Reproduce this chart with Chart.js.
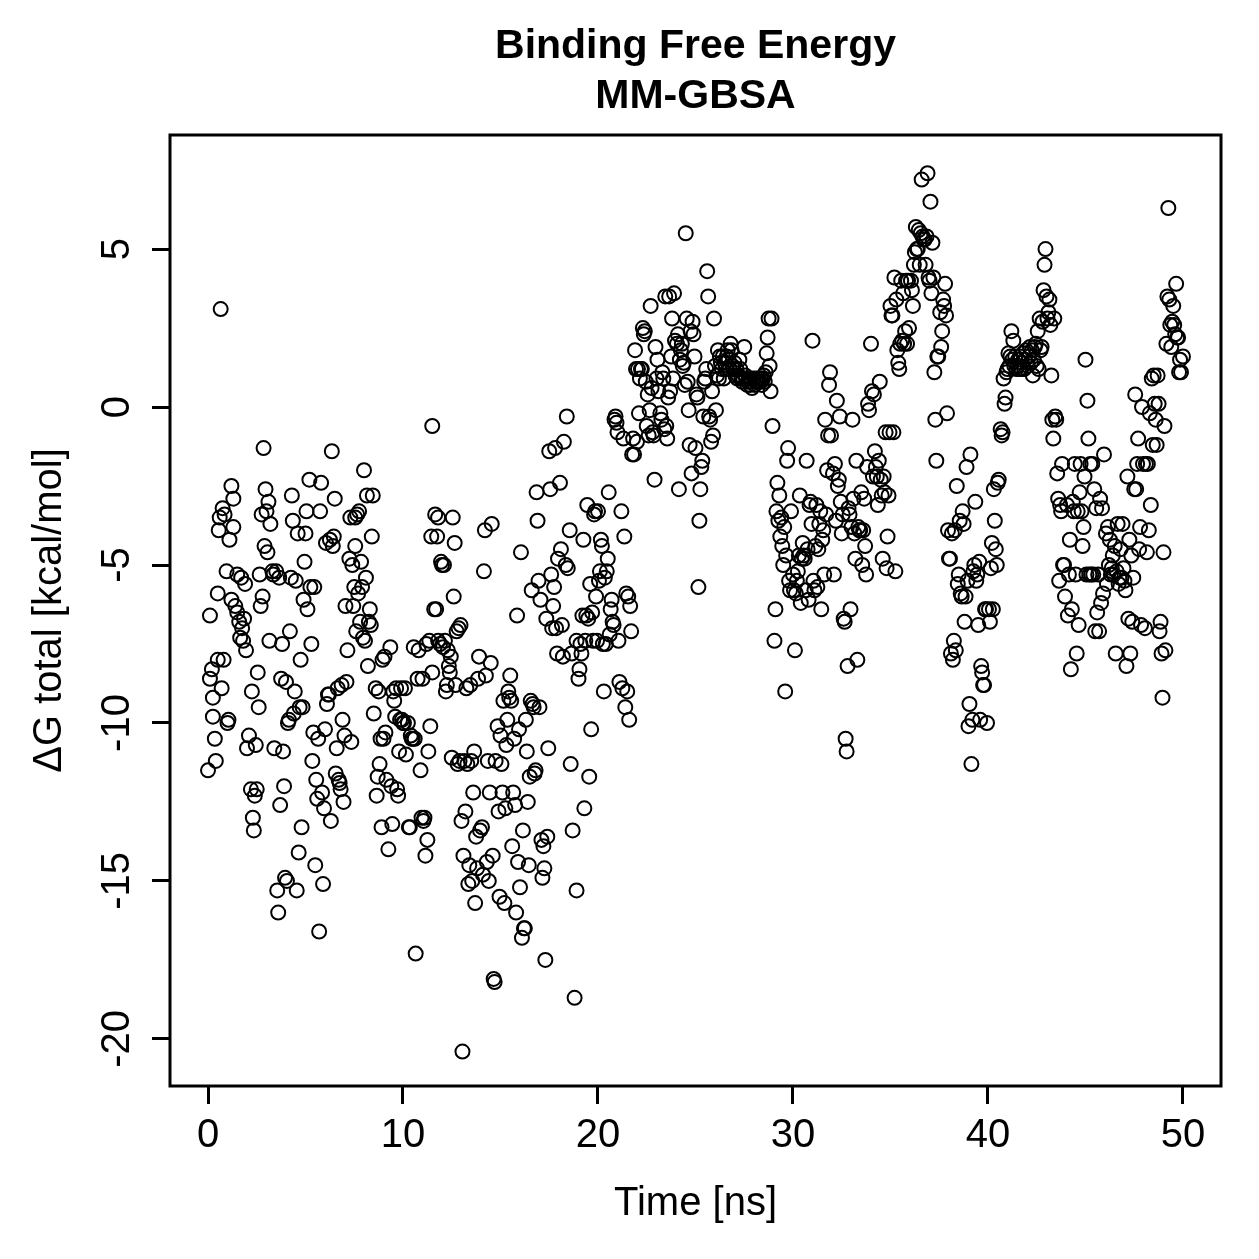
<!DOCTYPE html>
<html>
<head>
<meta charset="utf-8">
<script src="https://cdn.jsdelivr.net/npm/chart.js@4"></script>
<style>
  html, body { margin: 0; padding: 0; background: #fff; }
  canvas { display: block; }
</style>
</head>
<body>
<canvas id="chart" width="1259" height="1259"></canvas>
<script>
// title, axis labels, ticks
const titleLines = ['Binding Free Energy', 'MM-GBSA'];
const xLabel = 'Time [ns]';
const yLabel = 'ΔG total [kcal/mol]';
const xTicks = [0, 10, 20, 30, 40, 50];
const yTicks = [-20, -15, -10, -5, 0, 5];

// [time (ns), dG total (kcal/mol)], in 10 ns blocks
const dg0to10 = [
  [0,-11.5],[0.1,-8.6],[0.1,-6.6],[0.2,-8.3],[0.25,-9.2],[0.25,-9.8],[0.35,-10.5],[0.4,-11.2],[0.5,-8.0],[0.5,-5.9],
  [0.55,-3.9],[0.6,-3.5],[0.65,3.1],[0.7,-8.9],[0.75,-3.2],[0.8,-8.0],[0.85,-3.4],[0.95,-5.2],[1.0,-10.0],[1.05,-9.9],
  [1.1,-4.2],[1.2,-2.5],[1.2,-6.1],[1.3,-3.8],[1.3,-2.9],[1.4,-6.3],[1.5,-5.3],[1.5,-6.5],[1.6,-6.8],[1.65,-7.3],
  [1.7,-5.4],[1.75,-7.0],[1.8,-7.4],[1.85,-6.7],[1.9,-5.6],[1.95,-7.7],[2.0,-10.8],
  [2.1,-10.4],[2.2,-12.1],[2.25,-9.0],[2.3,-13.0],[2.35,-13.4],[2.4,-12.3],[2.45,-10.7],[2.5,-12.1],[2.55,-8.4],[2.6,-9.5],
  [2.65,-5.3],[2.7,-6.3],[2.75,-3.4],[2.8,-6.0],[2.85,-1.3],[2.9,-4.4],[2.95,-2.6],[3.0,-3.3],[3.05,-4.6],[3.1,-3.0],
  [3.15,-7.4],[3.2,-3.7],[3.3,-5.2],[3.35,-5.3],[3.4,-10.8],[3.5,-5.2],[3.55,-15.3],[3.6,-16.0],[3.65,-5.4],[3.7,-12.6],
  [3.75,-8.6],[3.8,-7.5],[3.85,-10.9],[3.9,-12.0],[3.95,-14.9],[4.0,-8.7],
  [4.05,-15.0],[4.1,-10.0],[4.15,-9.9],[4.2,-7.1],[4.25,-5.4],[4.3,-2.8],[4.35,-3.6],[4.4,-9.7],[4.45,-9.0],[4.5,-5.5],
  [4.55,-15.3],[4.6,-4.0],[4.65,-14.1],[4.7,-9.5],[4.75,-8.0],[4.8,-13.3],[4.85,-9.5],[4.9,-6.1],[4.95,-4.9],[5.0,-4.0],
  [5.05,-3.3],[5.1,-6.4],[5.2,-2.3],[5.25,-5.7],[5.3,-7.5],[5.35,-11.2],[5.4,-10.3],[5.45,-5.7],[5.5,-14.5],[5.55,-11.8],
  [5.6,-12.4],[5.65,-10.5],[5.7,-16.6],[5.75,-3.3],[5.8,-2.4],[5.85,-12.2],[5.9,-15.1],[5.95,-12.7],[6.0,-10.2],
  [6.05,-4.3],[6.1,-9.4],[6.15,-9.1],[6.2,-9.1],[6.25,-4.2],[6.3,-13.1],[6.35,-1.4],[6.4,-4.4],[6.45,-4.1],[6.5,-2.9],
  [6.55,-11.6],[6.6,-10.8],[6.65,-8.9],[6.7,-11.8],[6.75,-11.9],[6.8,-12.1],[6.85,-8.8],[6.9,-9.9],[6.95,-12.5],[7.0,-10.4],
  [7.05,-6.3],[7.1,-8.7],[7.15,-7.7],[7.25,-4.8],[7.3,-3.5],[7.35,-10.6],[7.4,-5.0],[7.45,-6.3],[7.5,-5.7],[7.55,-3.5],
  [7.55,-4.4],[7.6,-7.1],[7.65,-3.4],[7.7,-5.9],[7.75,-3.3],[7.8,-6.8],[7.85,-4.9],[7.9,-5.7],[7.95,-7.3],[8.0,-2.0],
  [8.05,-7.4],[8.1,-5.4],[8.15,-2.8],[8.2,-8.2],[8.25,-6.8],[8.3,-6.4],[8.35,-6.9],[8.4,-4.1],[8.45,-2.8],[8.5,-9.7],
  [8.6,-8.9],[8.65,-12.3],[8.7,-11.7],[8.75,-9.0],[8.8,-11.3],[8.85,-10.5],[8.9,-13.3],[8.95,-8.0],[9.0,-10.5],[9.05,-7.9],
  [9.1,-10.3],[9.15,-11.8],[9.25,-14.0],[9.35,-7.6],[9.4,-12.0],[9.45,-13.2],[9.5,-9.0],[9.55,-9.3],[9.6,-9.8],[9.65,-8.9],
  [9.7,-12.1],[9.75,-12.3],[9.8,-10.9],[9.85,-9.9],[9.9,-8.9],[9.95,-9.9],[10.0,-10.0]
];

const dg10to20 = [
  [10.05,-10.0],[10.1,-8.9],[10.15,-11.0],[10.25,-10.0],[10.3,-13.3],[10.35,-13.3],[10.4,-10.4],[10.45,-10.5],[10.5,-10.5],[10.55,-7.6],
  [10.6,-10.5],[10.65,-17.3],[10.75,-8.6],[10.8,-7.7],[10.9,-11.5],[10.95,-13.0],[11.0,-8.6],[11.05,-13.1],[11.1,-13.0],[11.15,-14.2],
  [11.2,-7.5],[11.25,-13.7],[11.3,-10.9],[11.35,-7.4],[11.4,-10.1],[11.45,-4.1],[11.5,-8.4],[11.5,-0.6],[11.6,-6.4],[11.65,-3.4],
  [11.7,-6.4],[11.75,-4.1],[11.8,-7.4],[11.8,-3.5],[11.9,-7.5],[11.95,-4.9],[12.0,-5.0],
  [12.05,-7.6],[12.1,-5.0],[12.15,-7.4],[12.2,-9.0],[12.25,-8.8],[12.3,-7.7],[12.35,-8.2],[12.4,-8.4],[12.45,-7.9],[12.5,-11.1],
  [12.55,-3.5],[12.6,-6.0],[12.65,-4.3],[12.7,-8.8],[12.75,-7.1],[12.8,-11.3],[12.85,-7.0],[12.9,-11.2],[12.95,-6.9],[13.0,-13.1],
  [13.05,-20.4],[13.1,-14.2],[13.15,-11.2],[13.2,-12.8],[13.25,-8.9],[13.3,-11.3],[13.35,-15.1],[13.4,-14.5],[13.45,-8.8],[13.5,-11.2],
  [13.55,-15.0],[13.6,-12.2],[13.65,-10.9],[13.7,-15.7],[13.75,-13.6],[13.8,-14.6],[13.85,-8.6],[13.9,-7.9],[13.95,-13.4],
  [14.05,-13.3],[14.1,-14.8],[14.15,-5.2],[14.2,-3.9],[14.25,-8.5],[14.3,-14.4],[14.35,-11.2],[14.4,-15.0],[14.45,-12.2],[14.5,-8.1],
  [14.55,-3.7],[14.6,-14.2],[14.65,-18.1],[14.7,-18.2],[14.75,-11.2],[14.85,-10.1],[14.9,-12.8],[14.95,-15.5],[15.0,-10.4],[15.05,-11.3],
  [15.1,-12.2],[15.15,-9.3],[15.2,-15.7],[15.25,-12.7],[15.3,-10.7],[15.35,-9.9],[15.4,-9.0],[15.45,-9.2],[15.5,-8.5],[15.55,-9.3],
  [15.6,-13.9],[15.65,-12.2],[15.7,-10.5],[15.75,-12.6],[15.8,-16.0],[15.85,-6.6],[15.9,-14.4],[15.95,-10.2],[16.0,-15.2],
  [16.05,-4.6],[16.1,-16.8],[16.15,-13.4],[16.2,-16.5],[16.25,-16.5],[16.3,-9.9],[16.35,-10.9],[16.4,-12.5],[16.45,-14.5],[16.5,-11.7],
  [16.55,-9.3],[16.6,-5.8],[16.65,-9.4],[16.7,-9.5],[16.75,-11.6],[16.8,-11.5],[16.85,-2.7],[16.9,-3.6],[16.95,-5.5],[17.0,-9.5],
  [17.05,-6.1],[17.1,-13.7],[17.15,-14.9],[17.2,-13.9],[17.25,-14.6],[17.3,-17.5],[17.35,-6.7],[17.4,-13.6],[17.45,-10.8],[17.5,-1.4],
  [17.55,-2.6],[17.6,-5.3],[17.65,-7.0],[17.7,-6.3],[17.75,-5.7],[17.8,-1.3],[17.85,-7.0],[17.9,-7.8],[17.95,-4.8],
  [18.05,-2.4],[18.1,-4.5],[18.15,-6.9],[18.2,-7.9],[18.25,-1.1],[18.35,-5.0],[18.4,-0.3],[18.45,-5.1],[18.55,-3.9],[18.6,-11.3],
  [18.65,-7.8],[18.7,-13.4],[18.8,-18.7],[18.9,-15.3],[18.9,-7.4],[19.0,-8.6],[19.05,-8.3],[19.1,-7.5],[19.15,-7.8],[19.2,-6.6],
  [19.25,-4.2],[19.3,-12.7],[19.35,-7.4],[19.4,-6.6],[19.45,-3.1],[19.5,-6.7],[19.55,-11.7],[19.6,-5.6],[19.65,-10.2],[19.7,-6.5],
  [19.75,-7.4],[19.8,-3.4],[19.85,-3.3],[19.9,-6.0],[19.95,-7.4],[20.0,-3.3]
];

const dg20to30 = [
  [20.05,-5.5],[20.1,-5.2],[20.15,-4.2],[20.2,-4.4],[20.25,-7.5],[20.3,-9.0],[20.35,-5.4],[20.4,-7.5],[20.45,-5.2],[20.5,-4.8],
  [20.55,-2.7],[20.6,-7.2],[20.65,-6.4],[20.7,-6.1],[20.75,-6.8],[20.8,-6.9],[20.85,-0.4],[20.9,-0.3],[20.95,-0.5],[21.0,-0.8],
  [21.05,-7.4],[21.1,-8.7],[21.2,-3.3],[21.25,-8.9],[21.3,-1.0],[21.35,-4.1],[21.4,-9.5],[21.45,-5.9],[21.5,-9.0],[21.55,-6.0],
  [21.6,-9.9],[21.65,-6.3],[21.7,-7.1],[21.75,-1.5],[21.8,-1.0],[21.85,-1.5],[21.9,1.8],[21.95,1.2],[22.0,-1.1],
  [22.05,1.2],[22.1,-0.2],[22.15,0.9],[22.2,1.2],[22.25,1.2],[22.3,2.5],[22.35,2.3],[22.4,2.4],[22.45,0.8],[22.5,-0.6],
  [22.55,0.4],[22.6,-0.9],[22.65,-0.1],[22.7,3.2],[22.75,0.6],[22.8,-0.8],[22.85,-0.9],[22.9,-2.3],[22.95,1.9],[23.0,0.9],
  [23.05,1.5],[23.1,0.5],[23.2,-0.2],[23.25,-0.4],[23.3,1.1],[23.35,0.9],[23.4,-0.7],[23.45,3.5],[23.5,-0.6],[23.55,-1.0],
  [23.6,0.3],[23.65,3.5],[23.7,0.5],[23.75,1.6],[23.8,2.8],[23.85,0.9],[23.9,3.6],[23.95,2.1],
  [24.05,2.0],[24.1,2.3],[24.15,-2.6],[24.2,1.5],[24.25,1.8],[24.3,2.0],[24.35,1.3],[24.4,1.4],[24.45,0.7],[24.5,5.5],
  [24.55,2.8],[24.6,0.8],[24.65,-0.1],[24.7,-1.2],[24.75,2.4],[24.8,-2.1],[24.85,2.7],[24.9,2.3],[24.95,1.6],[25.0,-1.3],
  [25.05,0.4],[25.1,0.3],[25.15,-5.7],[25.2,-3.6],[25.25,-2.6],[25.3,-1.9],[25.35,-1.7],[25.4,-0.3],[25.45,0.8],[25.5,0.9],
  [25.55,1.2],[25.6,4.3],[25.65,3.5],[25.7,-0.3],[25.75,-0.4],[25.8,-1.1],[25.85,0.5],[25.9,-0.9],[25.95,2.8],
  [26.0,1.3],[26.05,-0.1],[26.1,1.0],[26.15,1.8],[26.2,0.9],[26.25,1.6],[26.3,1.4],[26.35,1.2],[26.4,1.6],[26.45,0.9],
  [26.5,1.4],[26.55,1.2],[26.6,1.6],[26.65,1.8],[26.7,1.5],[26.75,1.2],[26.8,2.0],[26.85,1.8],[26.9,1.3],[26.95,1.2],
  [27.0,1.4],[27.05,1.0],[27.1,1.2],[27.15,0.9],[27.2,1.0],[27.25,1.5],[27.3,1.2],[27.35,0.9],[27.4,0.8],[27.45,0.9],
  [27.5,1.9],[27.55,1.0],[27.6,0.9],[27.65,0.7],[27.7,0.8],[27.75,0.9],[27.8,0.7],[27.85,0.9],[27.9,0.6],
  [28.0,0.9],[28.05,0.7],[28.1,0.8],[28.15,0.9],[28.2,0.8],[28.25,0.9],[28.3,0.8],[28.35,0.9],[28.4,0.7],[28.45,0.9],
  [28.5,1.0],[28.55,0.8],[28.6,1.1],[28.65,1.7],[28.7,2.2],[28.75,2.8],[28.8,1.3],[28.85,0.5],[28.9,2.8],[28.95,-0.6],
  [29.05,-7.4],[29.1,-6.4],[29.15,-3.3],[29.2,-2.4],[29.25,-3.6],[29.3,-2.8],[29.35,-4.1],[29.4,-3.5],[29.45,-4.4],[29.5,-5.0],
  [29.55,-3.8],[29.6,-9.0],[29.65,-4.7],[29.7,-1.7],[29.75,-1.3],[29.8,-5.5],[29.85,-5.8],[29.9,-3.3],[30.0,-5.3]
];

const dg30to40 = [
  [30.05,-5.8],[30.1,-7.7],[30.15,-5.9],[30.2,-5.5],[30.25,-5.2],[30.3,-4.7],[30.35,-2.8],[30.4,-6.2],[30.45,-4.8],[30.5,-4.3],
  [30.55,-4.7],[30.6,-4.8],[30.65,-5.8],[30.7,-1.7],[30.75,-4.5],[30.8,-6.1],[30.85,-3.1],[30.9,-3.0],[30.95,-3.7],[31.0,2.1],
  [31.05,-5.5],[31.1,-5.8],[31.15,-4.4],[31.2,-3.1],[31.25,-5.7],[31.3,-4.5],[31.35,-3.7],[31.4,-3.3],[31.45,-6.4],[31.5,-4.2],
  [31.55,-3.9],[31.6,-5.3],[31.65,-0.4],[31.7,-3.4],[31.75,-2.0],[31.8,-0.9],[31.85,0.7],[31.9,1.1],[31.95,-0.9],
  [32.05,-2.1],[32.1,-5.3],[32.15,-1.8],[32.2,-3.6],[32.25,0.2],[32.3,-2.5],[32.35,-2.3],[32.4,-0.3],[32.45,-3.0],[32.5,-4.0],
  [32.55,-3.4],[32.6,-6.7],[32.65,-6.8],[32.7,-10.5],[32.75,-10.9],[32.8,-8.2],[32.85,-3.2],[32.9,-3.4],[32.95,-6.4],[33.0,-3.8],
  [33.05,-0.4],[33.1,-2.9],[33.15,-4.0],[33.2,-4.8],[33.25,-1.7],[33.3,-8.0],[33.35,-3.8],[33.4,-3.9],[33.45,-3.9],[33.5,-2.7],
  [33.55,-5.0],[33.6,-3.9],[33.65,-2.9],[33.7,-4.4],[33.75,-5.3],[33.8,-1.9],[33.85,0.1],[33.9,-0.1],[34.0,2.0],
  [34.05,0.5],[34.1,-2.2],[34.15,0.4],[34.2,-1.4],[34.25,-1.9],[34.3,-2.2],[34.35,-3.1],[34.4,-1.7],[34.45,0.8],[34.5,-2.3],
  [34.55,-2.8],[34.6,-4.8],[34.65,-2.2],[34.7,-2.7],[34.75,-0.8],[34.8,-5.1],[34.85,-4.1],[34.9,-2.8],[34.95,-0.8],[35.0,3.2],
  [35.05,2.9],[35.1,2.9],[35.15,-0.8],[35.2,4.1],[35.25,-5.2],[35.3,3.4],[35.35,1.8],[35.4,1.4],[35.45,1.2],[35.5,2.0],
  [35.55,4.0],[35.6,2.1],[35.65,3.6],[35.7,2.0],[35.75,2.4],[35.8,4.0],[35.85,2.0],[35.9,4.0],[35.95,2.5],
  [36.05,4.0],[36.1,3.7],[36.15,3.2],[36.2,4.5],[36.25,4.9],[36.3,5.7],[36.35,5.0],[36.4,5.0],[36.45,5.6],[36.5,4.5],
  [36.55,5.5],[36.6,7.2],[36.65,5.4],[36.7,5.3],[36.75,5.3],[36.8,4.5],[36.85,5.4],[36.9,7.4],[36.95,4.1],[37.0,4.0],
  [37.05,6.5],[37.1,3.6],[37.15,5.2],[37.2,4.1],[37.25,1.1],[37.3,-0.4],[37.35,-1.7],[37.4,1.6],[37.45,1.6],[37.55,3.0],
  [37.6,1.9],[37.65,2.4],[37.7,3.4],[37.75,3.2],[37.8,3.9],[37.85,2.9],[37.9,-0.2],[37.95,-3.9],[38.0,-4.8],
  [38.05,-4.8],[38.1,-7.8],[38.15,-4.0],[38.2,-8.0],[38.25,-7.4],[38.3,-3.9],[38.35,-7.7],[38.4,-2.5],[38.45,-5.6],[38.5,-5.3],
  [38.55,-3.6],[38.6,-5.9],[38.65,-6.0],[38.7,-3.3],[38.75,-3.7],[38.8,-6.8],[38.85,-6.0],[38.9,-1.9],[38.95,-5.5],[39.0,-10.1],
  [39.05,-9.4],[39.1,-1.5],[39.15,-11.3],[39.2,-9.9],[39.25,-5.2],[39.3,-5.0],[39.35,-3.0],[39.4,-5.5],[39.45,-5.3],[39.5,-6.9],
  [39.55,-4.9],[39.6,-9.9],[39.65,-8.2],[39.7,-8.4],[39.75,-8.8],[39.8,-8.8],[39.85,-6.4],[39.9,-6.4],[39.95,-10.0]
];

const dg40to50 = [
  [40.05,-6.4],[40.1,-6.8],[40.15,-5.1],[40.2,-4.3],[40.25,-6.4],[40.3,-2.6],[40.35,-3.6],[40.4,-4.5],[40.45,-5.0],[40.5,-2.4],
  [40.55,-2.3],[40.65,-0.7],[40.7,-0.9],[40.75,-0.8],[40.8,0.9],[40.85,0.1],[40.9,0.3],[40.95,1.1],[41.0,1.2],[41.05,1.7],
  [41.1,1.3],[41.15,1.6],[41.2,2.4],[41.25,1.5],[41.3,2.1],[41.35,1.3],[41.4,1.6],[41.45,1.2],[41.5,1.3],[41.55,1.5],
  [41.6,1.2],[41.65,1.6],[41.7,1.2],[41.75,1.4],[41.8,1.7],[41.85,1.2],[41.9,1.5],[41.95,1.8],
  [42.05,1.3],[42.1,1.6],[42.15,1.9],[42.2,1.4],[42.25,1.8],[42.3,1.0],[42.35,1.5],[42.4,1.9],[42.45,2.0],[42.5,1.3],
  [42.55,2.4],[42.6,1.2],[42.65,2.8],[42.7,1.8],[42.75,1.9],[42.8,2.7],[42.85,3.7],[42.9,4.5],[42.95,5.0],[43.0,3.5],
  [43.05,2.8],[43.1,3.0],[43.15,3.4],[43.2,2.6],[43.25,1.0],[43.3,-0.4],[43.35,-1.0],[43.4,2.8],[43.45,-0.3],[43.5,-0.4],
  [43.55,-2.1],[43.6,-2.9],[43.65,-5.5],[43.7,-3.1],[43.75,-3.3],[43.8,-1.8],[43.85,-5.0],[43.9,-5.0],[43.95,-6.0],
  [44.05,-3.1],[44.1,-6.6],[44.15,-5.3],[44.2,-4.2],[44.25,-8.3],[44.3,-6.4],[44.35,-3.0],[44.4,-3.3],[44.45,-1.8],[44.5,-5.3],
  [44.55,-7.8],[44.6,-3.3],[44.65,-6.9],[44.7,-2.7],[44.75,-1.8],[44.8,-3.3],[44.85,-4.4],[44.9,-3.8],[44.95,-2.2],[45.0,1.5],
  [45.05,-5.3],[45.1,0.2],[45.15,-1.0],[45.2,-5.3],[45.25,-1.8],[45.3,-5.3],[45.35,-1.8],[45.4,-5.3],[45.45,-2.6],[45.5,-7.1],
  [45.55,-3.2],[45.6,-6.5],[45.65,-5.3],[45.7,-7.1],[45.75,-2.9],[45.8,-6.2],[45.85,-3.2],[45.9,-5.9],[45.95,-1.5],
  [46.05,-4.0],[46.1,-5.6],[46.15,-3.8],[46.2,-5.0],[46.25,-4.2],[46.3,-5.3],[46.35,-5.1],[46.4,-4.7],[46.45,-5.3],[46.5,-4.4],
  [46.55,-7.8],[46.6,-5.2],[46.65,-3.7],[46.7,-5.6],[46.75,-5.4],[46.8,-4.5],[46.85,-5.4],[46.9,-3.7],[46.95,-5.1],[47.0,-5.5],
  [47.05,-5.8],[47.1,-8.2],[47.15,-2.2],[47.2,-6.7],[47.25,-4.2],[47.3,-7.8],[47.35,-4.7],[47.4,-6.8],[47.45,-5.4],[47.5,-2.6],
  [47.55,0.4],[47.6,-2.6],[47.65,-1.8],[47.7,-1.0],[47.75,-4.5],[47.8,-3.8],[47.85,-6.9],[47.9,0.0],[47.95,-1.8],
  [48.05,-7.0],[48.1,-1.8],[48.15,-4.6],[48.2,-1.8],[48.25,-3.9],[48.3,-0.2],[48.35,-3.1],[48.4,0.9],[48.45,-1.2],[48.5,1.0],
  [48.55,0.1],[48.6,-0.4],[48.65,-1.2],[48.7,1.0],[48.75,0.1],[48.8,-7.1],[48.85,-6.8],[48.9,-7.8],[48.95,-9.2],[49.0,-4.6],
  [49.05,-0.6],[49.1,-7.7],[49.15,2.0],[49.2,3.5],[49.25,6.3],[49.3,3.4],[49.35,2.6],[49.4,1.9],[49.45,2.7],[49.5,3.2],
  [49.55,2.6],[49.6,2.3],[49.65,3.9],[49.7,2.2],[49.75,2.2],[49.8,1.1],[49.85,1.5],[49.9,1.1],[50.0,1.6]
];

const points = [...dg0to10, ...dg10to20, ...dg20to30, ...dg30to40, ...dg40to50]
  .map(([x, y]) => ({ x, y }));

const font = '"Liberation Sans", Arial, Helvetica, sans-serif';

// box round the plot, main title and rotated y tick labels (R style)
const framePlugin = {
  id: 'frame',
  afterDraw(chart) {
    const { ctx, chartArea: a, scales: { y } } = chart;
    ctx.save();
    ctx.strokeStyle = '#000';
    ctx.lineWidth = 3;
    ctx.strokeRect(a.left, a.top, a.right - a.left, a.bottom - a.top);

    ctx.fillStyle = '#000';
    ctx.textAlign = 'center';
    ctx.textBaseline = 'middle';
    ctx.font = 'bold 41px ' + font;
    const cx = (a.left + a.right) / 2;
    ctx.fillText(titleLines[0], cx, 47);
    ctx.fillText(titleLines[1], cx, 97);

    ctx.font = '40px ' + font;
    yTicks.forEach(v => {
      ctx.save();
      ctx.translate(118, y.getPixelForValue(v));
      ctx.rotate(-Math.PI / 2);
      ctx.fillText(String(v), 0, 0);
      ctx.restore();
    });
    ctx.restore();
  }
};

new Chart(document.getElementById('chart'), {
  type: 'scatter',
  data: {
    datasets: [{
      data: points,
      pointStyle: 'circle',
      pointRadius: 7,
      pointHoverRadius: 7,
      pointBorderWidth: 2,
      borderColor: '#000',
      backgroundColor: 'rgba(0,0,0,0)'
    }]
  },
  options: {
    responsive: false,
    animation: false,
    devicePixelRatio: 1,
    layout: { padding: { top: 135, right: 38, left: 0, bottom: 0 } },
    plugins: {
      legend: { display: false },
      tooltip: { enabled: false }
    },
    scales: {
      x: {
        type: 'linear',
        min: -1.949,
        max: 51.95,
        afterBuildTicks: s => { s.ticks = xTicks.map(v => ({ value: v })); },
        afterFit: s => { s.height = 173; },
        grid: {
          drawOnChartArea: false,
          drawTicks: true,
          tickLength: 18,
          tickWidth: 3,
          tickColor: '#000'
        },
        border: { display: false },
        ticks: {
          color: '#000',
          padding: 8,
          maxRotation: 0,
          font: { family: font, size: 40 }
        },
        title: {
          display: true,
          text: xLabel,
          color: '#000',
          padding: { top: 0, bottom: 31 },
          font: { family: font, size: 40 }
        }
      },
      y: {
        type: 'linear',
        min: -21.49,
        max: 8.61,
        afterBuildTicks: s => { s.ticks = yTicks.map(v => ({ value: v })); },
        afterFit: s => { s.width = 170; },
        grid: {
          drawOnChartArea: false,
          drawTicks: true,
          tickLength: 18,
          tickWidth: 3,
          tickColor: '#000'
        },
        border: { display: false },
        ticks: { display: false },
        title: {
          display: true,
          text: yLabel,
          color: '#000',
          padding: { top: 26, bottom: 0 },
          font: { family: font, size: 40 }
        }
      }
    }
  },
  plugins: [framePlugin]
});
</script>
</body>
</html>
